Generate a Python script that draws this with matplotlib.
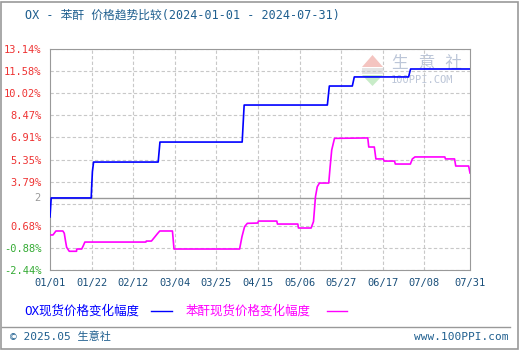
import matplotlib
matplotlib.use('Agg')
import matplotlib.pyplot as plt

plt.rcParams['font.family'] = ['DejaVu Sans Mono', 'Noto Sans CJK SC']

# day offsets from 2024-01-01 and % change
ox_days = [0, 0.6, 20.8, 21.0, 21.4, 22.0, 54.6, 55.5, 97.0, 98.0, 140.0, 141.0,
           152.6, 153.6, 181.0, 182.0, 212]
ox_vals = [1.30, 2.64, 2.64, 3.34, 4.49, 5.17, 5.17, 6.58, 6.58, 9.19, 9.19, 10.53,
           10.53, 11.17, 11.17, 11.73, 11.73]

pa_days = [0, 1.5, 3.0, 6.5, 7.2, 7.9, 8.4, 9.7, 13.4, 13.5, 16.0, 16.8, 17.6,
           48.4, 48.6, 51.2, 52.9, 54.1, 55.4, 61.8, 62.6, 95.7, 96.9, 98.2, 99.6,
           104.9, 105.2, 114.5, 114.8, 125.1, 125.4, 131.8, 133.0, 134.0, 134.9, 136.0,
           140.7, 141.4, 142.2, 143.6, 160.4, 160.9, 163.7, 164.5, 168.2, 168.6,
           173.9, 174.3, 181.9, 182.9, 184.2, 199.3, 199.6, 204.2, 204.8, 211.3, 212]
pa_vals = [0.03, 0.03, 0.31, 0.31, 0.15, -0.45, -0.84, -1.12, -1.12, -0.96, -0.96, -0.73, -0.47,
           -0.47, -0.40, -0.40, -0.11, 0.10, 0.31, 0.31, -0.96, -0.96, -0.09, 0.61, 0.85,
           0.87, 1.01, 1.01, 0.80, 0.80, 0.52, 0.52, 0.97, 2.73, 3.43, 3.69,
           3.69, 4.84, 6.02, 6.84, 6.87, 6.23, 6.23, 5.39, 5.39, 5.24,
           5.24, 5.03, 5.03, 5.39, 5.53, 5.53, 5.39, 5.39, 4.89, 4.89, 4.40]

y_ticks = [13.14, 11.58, 10.02, 8.47, 6.91, 5.35, 3.79, 2.23, 0.68, -0.88, -2.44]
y_labels = ['13.14%', '11.58%', '10.02%', '8.47%', '6.91%', '5.35%', '3.79%', '',
            '0.68%', '-0.88%', '-2.44%']
base_val = 2.64
x_ticks = [0, 21, 42, 63, 84, 105, 126, 147, 168, 189, 212]
x_labels = ['01/01', '01/22', '02/12', '03/04', '03/25', '04/15', '05/06',
            '05/27', '06/17', '07/08', '07/31']

W, H = 520, 350
fig = plt.figure(figsize=(W / 100, H / 100), dpi=100)
ax = fig.add_axes([50 / W, 1 - 270 / H, 420 / W, 221 / H])
ax.patch.set_visible(False)

ax.set_xlim(0, 212)
ax.set_ylim(-2.44, 13.14)
for v in y_ticks:
    ax.axhline(v, color='#c8c8c8', lw=0.8, ls=(0, (3, 2)), zorder=0)
for d in x_ticks[1:-1]:
    ax.axvline(d, color='#c8c8c8', lw=0.8, ls=(0, (3, 2)), zorder=0)
ax.axhline(base_val, color='#999999', lw=1.0, zorder=1)

ax.plot(ox_days, ox_vals, color='#0000ff', lw=1.2, zorder=3)
ax.plot(pa_days, pa_vals, color='#ff00ff', lw=1.2, zorder=3)

ax.set_yticks(y_ticks)
ax.set_yticklabels(y_labels, fontsize=7.5)
for lab, v in zip(ax.get_yticklabels(), y_ticks):
    lab.set_color('#33aa33' if v < 0 else '#ee3333')
ax.text(-5, base_val, '2', color='#999999', fontsize=7.5, ha='right', va='center')
ax.set_xticks(x_ticks)
ax.set_xticklabels(x_labels, fontsize=7.5, color='#1a4f7a')
ax.tick_params(length=0, pad=6)
for s in ax.spines.values():
    s.set_color('#999999')

# watermark logo, behind the lines
def px(x, y):
    return (x / W, 1 - y / H)

fig.add_artist(plt.Polygon([px(362, 67), px(383, 67), px(372.5, 55)], closed=True,
                           facecolor='#f4c4c0', edgecolor='none', zorder=-1))
fig.add_artist(plt.Rectangle(px(362, 74), 21 / W, 6 / H, facecolor='#e4e4e4',
                             edgecolor='none', zorder=-1))
fig.add_artist(plt.Polygon([px(362, 75), px(383, 75), px(372.5, 86)], closed=True,
                           facecolor='#c8ecc8', edgecolor='none', zorder=-1))
fig.text(*px(392, 63), '生 意 社', fontsize=12, color='#bcc6d8', ha='left', va='center', zorder=-1)
fig.text(*px(391, 80), '100PPI.COM', fontsize=7.5, color='#bcc6d8', ha='left', va='center', zorder=-1)

fig.text(25 / W, 1 - 15 / H, 'OX - 苯酐 价格趋势比较(2024-01-01 - 2024-07-31)',
         fontsize=8.5, color='#1f5f8f', ha='left', va='center')

fig.text(24 / W, 1 - 311 / H, 'OX现货价格变化幅度', fontsize=9, color='#0000ff', va='center')
fig.add_artist(plt.Line2D([151 / W, 172 / W], [1 - 311 / H] * 2, color='#0000ff', lw=1))
fig.text(186 / W, 1 - 311 / H, '苯酐现货价格变化幅度', fontsize=9, color='#ff00ff', va='center')
fig.add_artist(plt.Line2D([327 / W, 347 / W], [1 - 311 / H] * 2, color='#ff00ff', lw=1))

fig.add_artist(plt.Line2D([2 / W, 510 / W], [1 - 327 / H] * 2, color='#999999', lw=1))
fig.text(10 / W, 1 - 337 / H, '© 2025.05 生意社', fontsize=8, color='#1f5f8f', va='center')
fig.text(509 / W, 1 - 337 / H, 'www.100PPI.com', fontsize=8, color='#1f5f8f', ha='right', va='center')

fig.add_artist(plt.Rectangle((1 / W, 1 / H), 517 / W, 347 / H, fill=False,
                             edgecolor='#999999', lw=1.2))

fig.savefig('out.png', dpi=100)
